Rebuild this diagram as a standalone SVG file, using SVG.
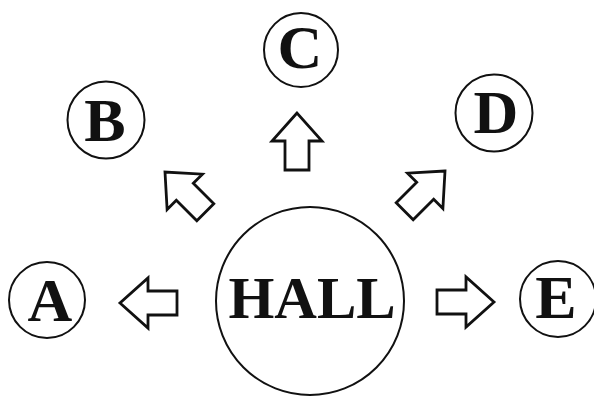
<svg xmlns="http://www.w3.org/2000/svg" width="594" height="396" viewBox="0 0 594 396">
<style>
.node circle{fill:none;stroke:#111;stroke-width:2}
.node text{font-family:"Liberation Serif","Times New Roman",serif;font-weight:bold;fill:#111;text-anchor:middle}
.lbl{font-size:62px}
.arrow{fill:#fff;stroke:#111;stroke-width:2.8;stroke-linejoin:miter}
</style>
<defs>
<path id="arr" d="M0,0 L-28,-25 L-28,-12 L-57,-12 L-57,12 L-28,12 L-28,25 Z"/>
</defs>
<rect width="594" height="396" fill="#fff"/>
<g id="hall" class="node"><circle cx="310" cy="301" r="94"/><text x="312" y="318" style="font-size:59px">HALL</text></g>
<g id="A" class="node"><circle cx="47" cy="300" r="38"/><text class="lbl" x="50" y="321">A</text></g>
<g id="B" class="node"><circle cx="106" cy="120" r="38.5"/><text class="lbl" x="105" y="141">B</text></g>
<g id="C" class="node"><circle cx="301" cy="50" r="37"/><text class="lbl" x="300" y="68">C</text></g>
<g id="D" class="node"><circle cx="494" cy="113" r="38.5"/><text class="lbl" x="496" y="133">D</text></g>
<g id="E" class="node"><circle cx="558" cy="299" r="38"/><text class="lbl" x="556" y="318">E</text></g>
<g id="connectors">
<use href="#arr" class="arrow" transform="translate(120,303) rotate(180)"/>
<use href="#arr" class="arrow" transform="translate(494,302)"/>
<use href="#arr" class="arrow" transform="translate(297,113) rotate(-90)"/>
<use href="#arr" class="arrow" transform="translate(165,172) rotate(-135)"/>
<use href="#arr" class="arrow" transform="translate(445,171) rotate(-45)"/>
</g>
</svg>
